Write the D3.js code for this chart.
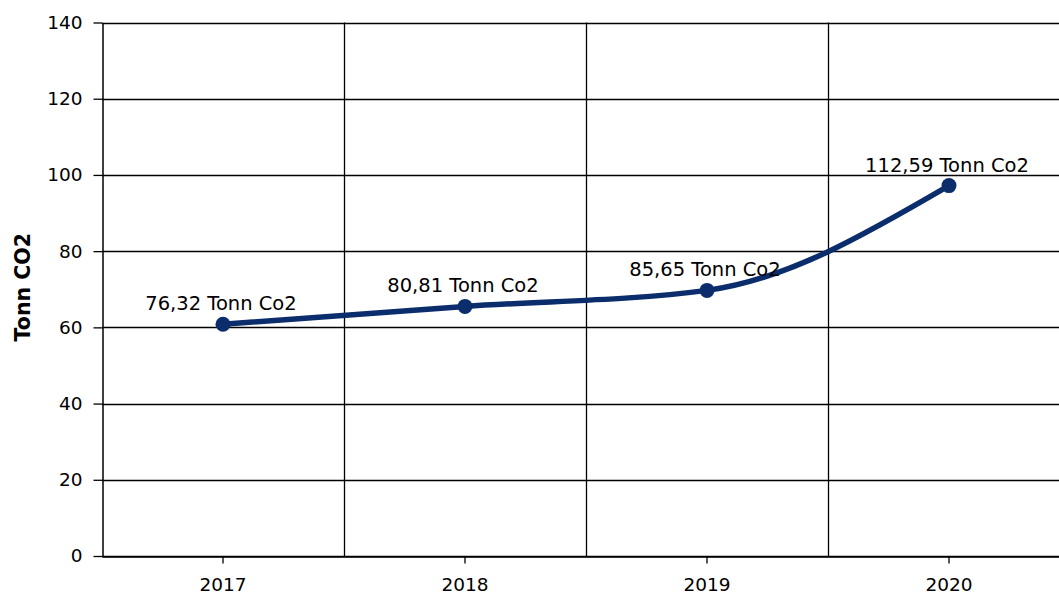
<!DOCTYPE html>
<html>
<head>
<meta charset="utf-8">
<script src="https://cdn.jsdelivr.net/npm/d3@7"></script>
<style>
  body { margin: 0; background: #fff; }
  svg text { font-family: "DejaVu Sans", Verdana, sans-serif; fill: #000; }
</style>
</head>
<body>
<svg id="chart" width="1059" height="594"></svg>
<script>
// ---- DATA ----
const years = ["2017", "2018", "2019", "2020"];
const values = [60.8, 65.5, 69.7, 97.2];
const labels = ["76,32 Tonn Co2", "80,81 Tonn Co2", "85,65 Tonn Co2", "112,59 Tonn Co2"];
const yTicks = [0, 20, 40, 60, 80, 100, 120, 140];

// ---- LAYOUT ----
const margin = { left: 102, top: 22.5, right: -11, bottom: 38 };
const W = 1059, H = 594;
const svg = d3.select("#chart");

const x = d3.scaleBand().domain(years).range([margin.left, W - margin.right]).padding(0);
const y = d3.scaleLinear().domain([0, 140]).range([H - margin.bottom, margin.top]);

// horizontal grid
svg.append("g")
  .selectAll("line")
  .data(yTicks)
  .join("line")
  .attr("x1", margin.left).attr("x2", W - margin.right)
  .attr("y1", d => Math.round(y(d)) + 0.5).attr("y2", d => Math.round(y(d)) + 0.5)
  .attr("stroke", "#000").attr("stroke-width", 1.3);

// vertical grid at band boundaries
svg.append("g")
  .selectAll("line")
  .data(years.slice(1))
  .join("line")
  .attr("x1", d => Math.round(x(d)) + 0.5).attr("x2", d => Math.round(x(d)) + 0.5)
  .attr("y1", y(140)).attr("y2", y(0))
  .attr("stroke", "#000").attr("stroke-width", 1.3);

// y axis
const yAxis = svg.append("g")
  .attr("transform", `translate(${margin.left + 0.5},0)`)
  .call(d3.axisLeft(y).tickValues(yTicks).tickSize(9).tickPadding(11).tickSizeOuter(0));
yAxis.select(".domain").attr("stroke", "#000").attr("stroke-width", 1.5);
yAxis.selectAll(".tick line").attr("stroke", "#000").attr("stroke-width", 1.3);
yAxis.selectAll(".tick text").attr("font-size", 18.5).attr("font-family", "DejaVu Sans");

// x axis
const xAxis = svg.append("g")
  .attr("transform", `translate(0,${Math.round(y(0)) + 0.5})`)
  .call(d3.axisBottom(x).tickSize(7).tickPadding(14).tickSizeOuter(0));
xAxis.select(".domain").attr("stroke", "#000").attr("stroke-width", 1.5);
xAxis.selectAll(".tick line").attr("stroke", "#000").attr("stroke-width", 1.3);
xAxis.selectAll(".tick text").attr("font-size", 18.5).attr("font-family", "DejaVu Sans");

// y label
svg.append("text")
  .attr("transform", `translate(29.5,${(y(0) + y(140)) / 2 - 2}) rotate(-90)`)
  .attr("text-anchor", "middle")
  .attr("font-size", 20.5).attr("font-weight", "bold")
  .text("Tonn CO2");

// line
const cx = d => x(d) + x.bandwidth() / 2;
const line = d3.line()
  .x((d, i) => cx(years[i]))
  .y(d => y(d))
  .curve(d3.curveMonotoneX);

svg.append("path")
  .datum(values)
  .attr("d", line)
  .attr("fill", "none")
  .attr("stroke", "#0b2d6b")
  .attr("stroke-width", 5.5)
  .attr("stroke-linecap", "round");

svg.append("g")
  .selectAll("circle")
  .data(values)
  .join("circle")
  .attr("cx", (d, i) => cx(years[i]))
  .attr("cy", d => y(d))
  .attr("r", 7.5)
  .attr("fill", "#0b2d6b");

// data labels
svg.append("g")
  .selectAll("text")
  .data(values)
  .join("text")
  .attr("x", (d, i) => cx(years[i]) - 2)
  .attr("y", d => y(d) - 14)
  .attr("text-anchor", "middle")
  .attr("font-size", 19.5)
  .text((d, i) => labels[i]);
</script>
</body>
</html>
